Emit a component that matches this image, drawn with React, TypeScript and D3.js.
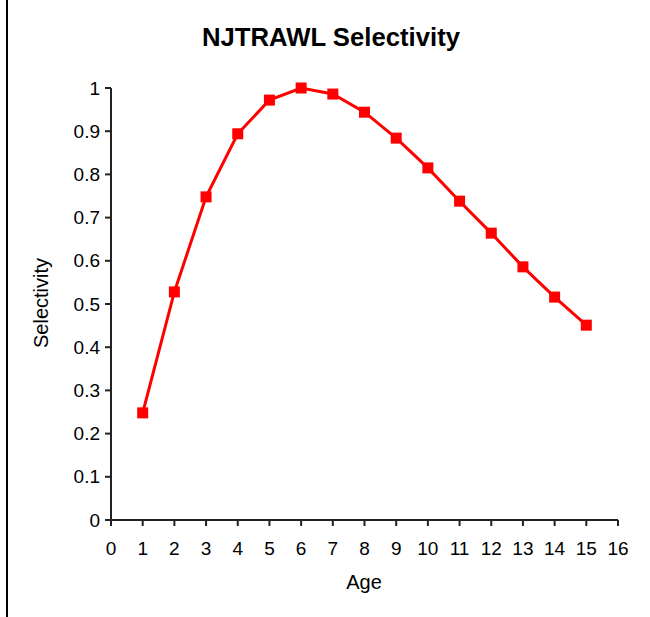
import React from "react";
import * as d3 from "d3";

const ages = [1, 2, 3, 4, 5, 6, 7, 8, 9, 10, 11, 12, 13, 14, 15];
const selectivity = [0.248, 0.528, 0.748, 0.894, 0.972, 1.0, 0.986, 0.944, 0.884, 0.815, 0.738, 0.664, 0.586, 0.516, 0.451];
const xTicks = d3.range(0, 17);
const yTicks = [0, 0.1, 0.2, 0.3, 0.4, 0.5, 0.6, 0.7, 0.8, 0.9, 1];
const title = "NJTRAWL Selectivity";
const xLabel = "Age";
const yLabel = "Selectivity";

export default function App() {
  const W = 650, H = 617;
  const left = 111, right = 618, top = 88, bottom = 520;
  const x = d3.scaleLinear().domain([0, 16]).range([left, right]);
  const y = d3.scaleLinear().domain([0, 1]).range([bottom, top]);
  const line = d3.line<number>().x((_, i) => x(ages[i])).y((d) => y(d));
  const font = "'Liberation Sans', Arial, sans-serif";
  const ms = 11;
  return (
    <svg width={W} height={H} style={{ position: "absolute", left: 0, top: 0, background: "#fff" }} fontFamily={font}>
      <rect x={0} y={0} width={W} height={H} fill="#fff" />
      <line x1={7} x2={7} y1={0} y2={H} stroke="#000" strokeWidth={2} />
      <text x={331} y={46} textAnchor="middle" fontWeight="bold" fontSize={25} fill="#000" textLength={258} lengthAdjust="spacingAndGlyphs">{title}</text>
      {/* y axis */}
      <line x1={left} x2={left} y1={top} y2={bottom} stroke="#222" strokeWidth={2} />
      {yTicks.map((t) => (
        <g key={"y" + t}>
          <line x1={left - 6} x2={left} y1={y(t)} y2={y(t)} stroke="#222" strokeWidth={2} />
          <text x={left - 11} y={y(t)} dy="0.35em" textAnchor="end" fontSize={19} fill="#000">{d3.format("~g")(t)}</text>
        </g>
      ))}
      {/* x axis */}
      <line x1={left} x2={right} y1={bottom} y2={bottom} stroke="#222" strokeWidth={2} />
      {xTicks.map((t) => (
        <g key={"x" + t}>
          <line x1={x(t)} x2={x(t)} y1={bottom} y2={bottom + 6} stroke="#222" strokeWidth={2} />
          <text x={x(t)} y={555} textAnchor="middle" fontSize={19} fill="#000">{t}</text>
        </g>
      ))}
      <text x={364} y={589} textAnchor="middle" fontSize={20} fill="#000">{xLabel}</text>
      <text transform="translate(48,303) rotate(-90)" textAnchor="middle" fontSize={20} fill="#000">{yLabel}</text>
      <path d={line(selectivity) || ""} fill="none" stroke="#ff0000" strokeWidth={3} />
      {selectivity.map((v, i) => (
        <rect key={i} x={x(ages[i]) - ms / 2} y={y(v) - ms / 2} width={ms} height={ms} fill="#ff0000" />
      ))}
    </svg>
  );
}
